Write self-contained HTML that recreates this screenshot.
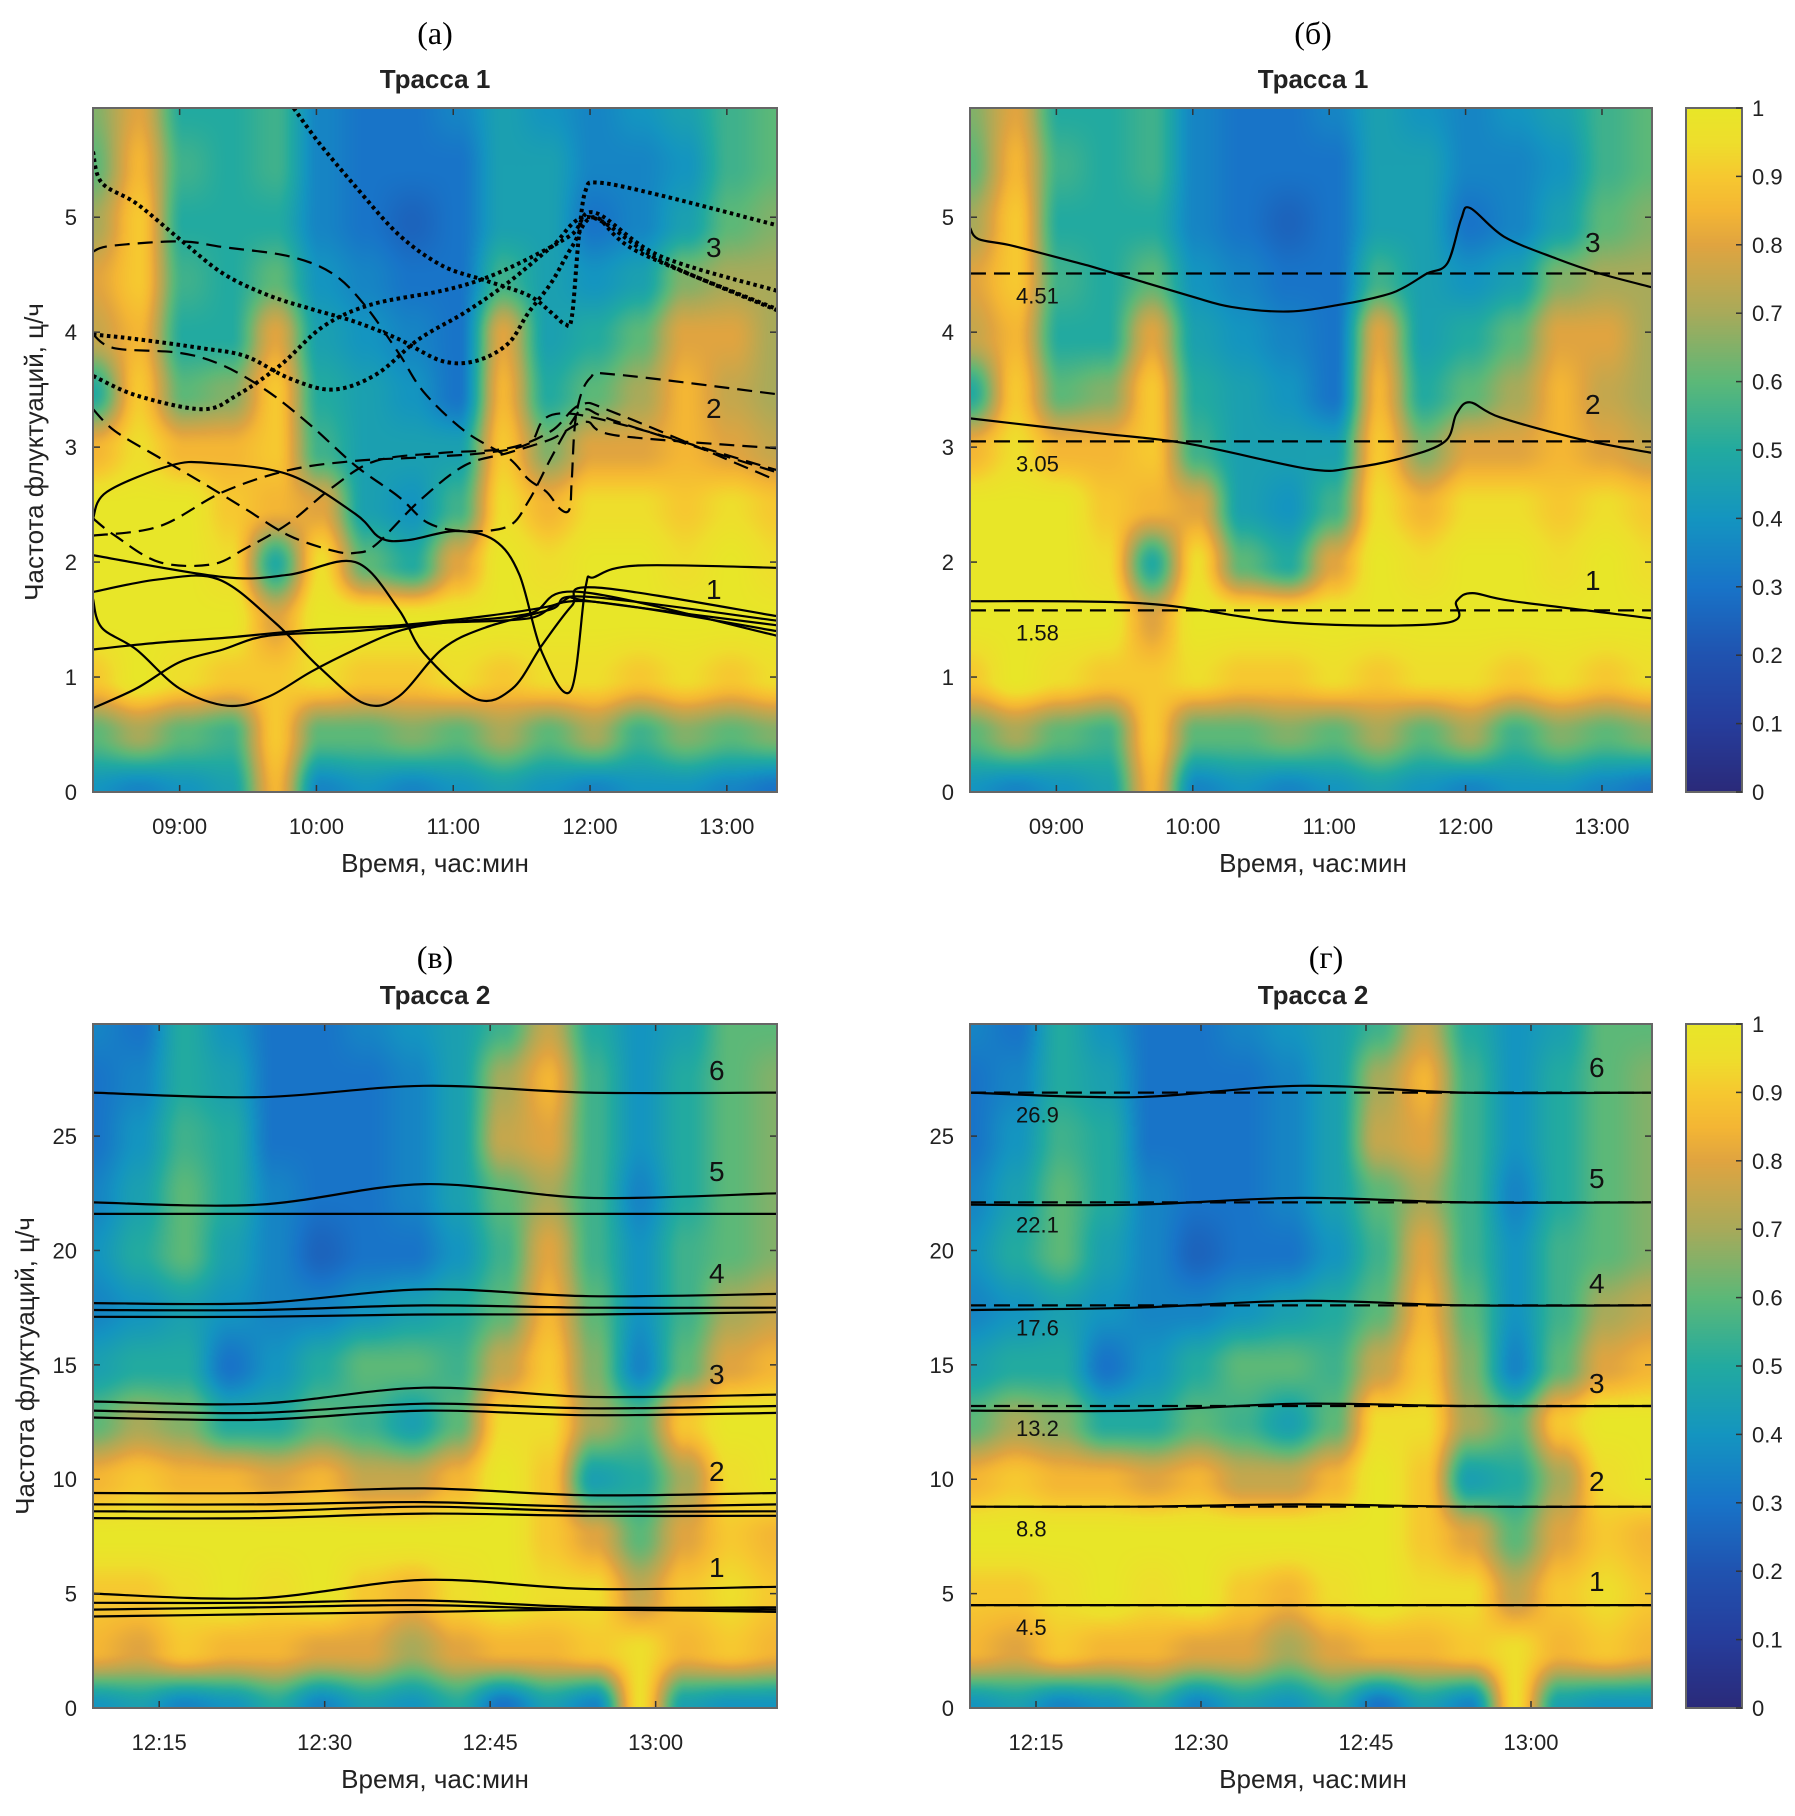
<!DOCTYPE html>
<html><head><meta charset="utf-8">
<style>
html,body{margin:0;padding:0;background:#fff;}
#wrap{position:relative;width:1795px;height:1816px;overflow:hidden;background:#fff;font-family:"Liberation Sans","DejaVu Sans",sans-serif;}
canvas{position:absolute;}
svg{position:absolute;left:0;top:0;}
</style></head>
<body>
<div id="wrap">
<canvas id="hmA" width="684" height="684" style="left:93px;top:108px"></canvas>
<canvas id="hmB" width="682" height="684" style="left:970px;top:108px"></canvas>
<canvas id="hmC" width="684" height="684" style="left:93px;top:1024px"></canvas>
<canvas id="hmD" width="682" height="684" style="left:970px;top:1024px"></canvas>
<canvas id="cb1" width="56" height="684" style="left:1686px;top:108px"></canvas>
<canvas id="cb2" width="56" height="684" style="left:1686px;top:1024px"></canvas>
<svg id="svg" width="1795" height="1816" xmlns="http://www.w3.org/2000/svg"></svg>
</div>
<script>
// ---------- colormap ----------
const cmapV=[0,0.1,0.2,0.3,0.4,0.5,0.6,0.7,0.8,0.85,0.9,0.95,1];
const cmapC=[[42,42,122],[38,61,156],[32,83,176],[24,116,200],[20,149,192],[34,170,160],[92,184,120],[168,170,90],[224,164,64],[244,182,52],[246,200,48],[238,222,44],[232,230,40]];

// ---------- Trace 1 heatmap (rows top 5.95 -> bottom 0) ----------
const t1Top=5.95;
const t1Rows=[
[0.65,0.8,0.5,0.5,0.55,0.35,0.3,0.3,0.35,0.45,0.4,0.35,0.4,0.45,0.55,0.6],
[0.6,0.85,0.55,0.5,0.55,0.35,0.3,0.3,0.3,0.45,0.45,0.35,0.35,0.4,0.55,0.6],
[0.7,0.9,0.5,0.5,0.5,0.35,0.3,0.25,0.3,0.45,0.45,0.3,0.35,0.45,0.6,0.65],
[0.8,0.9,0.55,0.5,0.6,0.4,0.35,0.3,0.3,0.55,0.45,0.4,0.45,0.65,0.7,0.7],
[0.75,0.85,0.5,0.5,0.8,0.45,0.4,0.35,0.3,0.8,0.45,0.5,0.6,0.8,0.8,0.7],
[0.5,0.9,0.6,0.65,0.9,0.5,0.45,0.4,0.3,0.85,0.5,0.6,0.7,0.85,0.75,0.7],
[0.85,0.95,0.85,0.85,0.9,0.55,0.45,0.45,0.45,0.9,0.65,0.8,0.8,0.85,0.8,0.75],
[1,1,1,0.9,0.85,0.8,0.45,0.4,0.55,0.95,0.85,0.95,0.95,0.9,0.95,0.9],
[1,1,1,0.95,0.5,0.95,0.6,0.5,0.8,1,0.95,1,1,0.95,1,0.95],
[1,1,1,1,0.8,1,1,1,1,1,1,1,1,1,1,1],
[0.9,1,0.95,0.9,0.9,0.95,0.9,0.9,0.95,0.9,0.95,0.95,0.9,0.95,0.9,0.95],
[0.6,0.7,0.6,0.55,0.9,0.6,0.6,0.65,0.6,0.7,0.6,0.7,0.55,0.65,0.6,0.65],
[0.4,0.35,0.4,0.45,0.85,0.35,0.4,0.35,0.4,0.45,0.4,0.35,0.4,0.4,0.35,0.3]];
// ---------- Trace 2 heatmap (rows 30 -> 0) ----------
const t2Top=29.9;
const t2Rows=[
[0.35,0.3,0.5,0.4,0.3,0.3,0.35,0.4,0.45,0.55,0.75,0.5,0.4,0.45,0.6,0.6],
[0.3,0.35,0.5,0.45,0.3,0.3,0.3,0.35,0.45,0.7,0.85,0.55,0.4,0.5,0.6,0.65],
[0.3,0.4,0.55,0.5,0.3,0.3,0.3,0.35,0.45,0.75,0.8,0.55,0.4,0.5,0.6,0.65],
[0.35,0.45,0.6,0.5,0.35,0.3,0.3,0.35,0.45,0.6,0.7,0.55,0.35,0.5,0.6,0.65],
[0.4,0.5,0.6,0.45,0.35,0.25,0.3,0.3,0.4,0.55,0.8,0.55,0.4,0.55,0.6,0.65],
[0.35,0.4,0.45,0.4,0.35,0.35,0.4,0.45,0.5,0.6,0.85,0.6,0.4,0.55,0.7,0.75],
[0.45,0.5,0.5,0.3,0.4,0.5,0.6,0.6,0.55,0.75,0.9,0.65,0.35,0.6,0.8,0.85],
[0.6,0.7,0.65,0.5,0.5,0.6,0.55,0.45,0.6,0.95,0.95,0.7,0.6,0.9,1,1],
[0.85,0.9,0.85,0.85,0.8,0.85,0.75,0.75,0.85,1,0.9,0.45,0.5,0.7,0.95,1],
[1,1,1,1,1,1,1,1,1,1,0.9,0.8,0.6,0.8,0.9,0.85],
[0.9,0.9,0.95,1,0.95,1,0.9,0.85,0.95,1,0.95,0.95,0.75,0.9,0.95,0.9],
[0.85,0.8,0.9,0.85,0.85,0.8,0.8,0.7,0.8,0.85,0.85,0.9,0.95,0.85,0.9,0.85],
[0.4,0.45,0.35,0.4,0.5,0.35,0.45,0.4,0.5,0.3,0.45,0.35,0.95,0.45,0.4,0.4]];

// ---------- Panel (a) lines: times in minutes after 08:22 ----------
const aSolidT=[
[0,6,34,52,86,115,126,138,159,176,187,197,209.5,216,220,239,300],
[0,57,86,115,134,145,168,184,197,210,220,300],
[0,29,55,80,99,119,134,153,172,201,216,300],
[0,3.8,19,38,59,77,96,115,134,153,191,214,300],
[0,29,57,96,134,172,201,210,218,300],
[0,19,38,57,77,115,153,191,216,300]];
const aSolidV=[
[2.38,2.61,2.84,2.86,2.76,2.42,2.21,2.19,2.27,2.19,1.89,1.21,0.88,1.78,1.87,1.97,1.95],
[2.06,1.87,1.89,2.00,1.59,1.21,0.81,0.90,1.28,1.62,1.78,1.53],
[1.74,1.85,1.85,1.47,1.09,0.77,0.83,1.24,1.43,1.59,1.70,1.49],
[1.68,1.43,1.24,0.90,0.75,0.83,1.05,1.24,1.40,1.47,1.55,1.74,1.36],
[1.24,1.30,1.34,1.41,1.45,1.53,1.62,1.70,1.66,1.45],
[0.73,0.90,1.13,1.24,1.36,1.40,1.47,1.51,1.66,1.40]];
const aDashT=[
[0,7.7,38,57,86,105,119,134,145,163,182,191,199,205,209,210,212,218,230,300],
[0,9.6,38,57,77,96,115,134,147,163,182,191,201,210,216,230,300],
[0,9.6,29,48,67,86,105,115,124,143,163,182,201,216,230,300],
[0,9.6,29,52,67,86,105,124,153,182,201,214,230,300],
[0,29,57,86,115,143,172,191,210,300]];
const aDashV=[
[4.70,4.75,4.79,4.74,4.66,4.51,4.24,3.82,3.48,3.14,2.91,2.72,2.61,2.46,2.46,2.72,3.29,3.60,3.63,3.46],
[3.98,3.86,3.82,3.71,3.48,3.18,2.84,2.57,2.34,2.27,2.31,2.53,2.91,3.22,3.33,3.22,2.78],
[3.33,3.14,2.91,2.69,2.46,2.23,2.10,2.08,2.15,2.53,2.84,2.95,3.07,3.22,3.10,2.99],
[2.38,2.23,2.00,1.98,2.12,2.34,2.65,2.88,2.95,2.99,3.14,3.37,3.29,2.71],
[2.23,2.31,2.61,2.80,2.88,2.91,2.95,3.03,3.29,2.80]];
const aDotT=[
[88,99,115,134,153,172,191,201,207,210,213,216,222,249,300],
[0,3.8,19,38,57,77,96,115,134,153,168,182,191,201,210,220,239,300],
[0,19,48,67,86,105,124,143,163,182,201,218,249,300],
[0,19,48,63,82,101,122,153,172,191,210,220,249,300]];
const aDotV=[
[5.95,5.65,5.27,4.85,4.58,4.45,4.32,4.17,4.07,4.13,4.81,5.23,5.30,5.19,4.93],
[5.57,5.30,5.12,4.81,4.51,4.32,4.20,4.09,3.94,3.75,3.75,3.90,4.17,4.43,4.74,5.0,4.70,4.20],
[3.98,3.94,3.86,3.79,3.60,3.50,3.63,3.94,4.17,4.43,4.74,5.0,4.62,4.19],
[3.62,3.45,3.33,3.45,3.71,4.05,4.24,4.36,4.47,4.64,4.85,5.04,4.66,4.36]];

// ---------- Panel (b) ----------
const bT=[
[0,3.8,19,48,57,96,115,140,163,182,191,201,210,216,220,235,258,277,300],
[0,57,96,149,168,191,209,214,220,233,268,300],
[0,77,143,209,214,221,239,300]];
const bV=[
[4.91,4.81,4.75,4.60,4.55,4.32,4.22,4.18,4.24,4.32,4.39,4.51,4.60,4.98,5.08,4.83,4.64,4.51,4.39],
[3.25,3.12,3.03,2.81,2.82,2.91,3.05,3.29,3.39,3.26,3.07,2.95],
[1.66,1.64,1.47,1.47,1.66,1.73,1.66,1.51]];
const bMeans=[4.51,3.05,1.58];
const bMeanLabels=["4.51","3.05","1.58"];

// ---------- Panels (c),(d): minutes after 12:09 ----------
const cdT=[0,15,30,45,62];
const cV=[
[26.9,26.7,27.2,26.9,26.9],[22.1,22.0,22.9,22.3,22.5],[21.6,21.6,21.6,21.6,21.6],
[17.7,17.7,18.3,18.0,18.1],[17.4,17.4,17.6,17.5,17.5],[17.1,17.1,17.2,17.2,17.3],
[13.4,13.3,14.0,13.6,13.7],[13.0,12.9,13.3,13.1,13.2],[12.7,12.6,13.0,12.8,12.9],
[9.4,9.4,9.6,9.3,9.4],[8.9,8.9,9.0,8.8,8.9],[8.6,8.6,8.8,8.6,8.6],[8.3,8.3,8.5,8.4,8.4],
[5.0,4.8,5.6,5.2,5.3],[4.6,4.6,4.7,4.4,4.4],[4.3,4.4,4.5,4.3,4.3],[4.0,4.1,4.2,4.3,4.2]];
const dV=[
[26.9,26.7,27.2,26.9,26.9],[22.0,22.0,22.3,22.1,22.1],[17.4,17.5,17.8,17.6,17.6],
[13.0,13.0,13.3,13.2,13.2],[8.8,8.8,8.9,8.8,8.8],[4.5,4.5,4.5,4.5,4.5]];
const dMeans=[26.9,22.1,17.6,13.2,8.8,4.5];
const dMeanLabels=["26.9","22.1","17.6","13.2","8.8","4.5"];

// ---------- ticks ----------
const t1TickMin=[38,98,158,218,278];
const t1TickLbl=["09:00","10:00","11:00","12:00","13:00"];
const t2TickMin=[6,21,36,51];
const t2TickLbl=["12:15","12:30","12:45","13:00"];
const y1Ticks=[0,1,2,3,4,5];
const y2Ticks=[0,5,10,15,20,25];
const cbTicks=[0,0.1,0.2,0.3,0.4,0.5,0.6,0.7,0.8,0.9,1];
const cbTickLbl=["0","0.1","0.2","0.3","0.4","0.5","0.6","0.7","0.8","0.9","1"];

// ================= drawing =================
function cmap(v){
  v=Math.max(0,Math.min(1,v));
  for(let i=1;i<cmapV.length;i++){
    if(v<=cmapV[i]){const f=(v-cmapV[i-1])/(cmapV[i]-cmapV[i-1]);const a=cmapC[i-1],b=cmapC[i];
      return [a[0]+(b[0]-a[0])*f,a[1]+(b[1]-a[1])*f,a[2]+(b[2]-a[2])*f];}
  }
  return cmapC[cmapC.length-1];
}
function sm(f){return f*f*(3-2*f);}
function drawHeat(id,rows){
  const c=document.getElementById(id),ctx=c.getContext('2d'),W=c.width,H=c.height;
  const img=ctx.createImageData(W,H);const nr=rows.length,nc=rows[0].length;
  for(let y=0;y<H;y++){
    const fy=y/(H-1)*(nr-1);const r0=Math.min(nr-2,Math.floor(fy));const ty=sm(fy-r0);
    for(let x=0;x<W;x++){
      const fx=x/(W-1)*(nc-1);const c0=Math.min(nc-2,Math.floor(fx));const tx=sm(fx-c0);
      const v=(rows[r0][c0]*(1-tx)+rows[r0][c0+1]*tx)*(1-ty)+(rows[r0+1][c0]*(1-tx)+rows[r0+1][c0+1]*tx)*ty;
      const col=cmap(v);const k=(y*W+x)*4;
      img.data[k]=col[0];img.data[k+1]=col[1];img.data[k+2]=col[2];img.data[k+3]=255;
    }
  }
  ctx.putImageData(img,0,0);
}
function drawCb(id){
  const c=document.getElementById(id),ctx=c.getContext('2d');
  for(let y=0;y<c.height;y++){const col=cmap(1-y/(c.height-1));
    ctx.fillStyle='rgb('+col.map(Math.round).join(',')+')';ctx.fillRect(0,y,c.width,1);}
}
drawHeat('hmA',t1Rows);drawHeat('hmB',t1Rows);drawHeat('hmC',t2Rows);drawHeat('hmD',t2Rows);
drawCb('cb1');drawCb('cb2');

const NS='http://www.w3.org/2000/svg';const svg=document.getElementById('svg');
function el(tag,attrs,parent){const e=document.createElementNS(NS,tag);for(const k in attrs)e.setAttribute(k,attrs[k]);(parent||svg).appendChild(e);return e;}
function txt(s,x,y,attrs,parent){const e=el('text',Object.assign({x:x,y:y},attrs),parent);e.textContent=s;return e;}

function axes(x0,x1,y0,y1,tMax,vMax,name){
  const g=el('g',{});
  
  
  const X=t=>x0+t/tMax*(x1-x0);const Y=v=>y1-v/vMax*(y1-y0);
  const clipId='clip-'+name;const cp=el('clipPath',{id:clipId},g);el('rect',{x:x0,y:y0,width:x1-x0,height:y1-y0},cp);
  const lines=el('g',{'clip-path':'url(#'+clipId+')'},g);
  return {g,X,Y,lines,x0,x1,y0,y1};
}
function curvePath(ax,ts,vs){
  const p=ts.map((t,i)=>[ax.X(t),ax.Y(vs[i])]);
  let d='M'+p[0][0].toFixed(1)+','+p[0][1].toFixed(1);
  for(let i=0;i<p.length-1;i++){
    const p0=p[Math.max(0,i-1)],p1=p[i],p2=p[i+1],p3=p[Math.min(p.length-1,i+2)];
    const c1=[p1[0]+(p2[0]-p0[0])/6,p1[1]+(p2[1]-p0[1])/6];
    const c2=[p2[0]-(p3[0]-p1[0])/6,p2[1]-(p3[1]-p1[1])/6];
    d+='C'+c1[0].toFixed(1)+','+c1[1].toFixed(1)+' '+c2[0].toFixed(1)+','+c2[1].toFixed(1)+' '+p2[0].toFixed(1)+','+p2[1].toFixed(1);
  }
  return d;
}
function frame(ax,xt,xl,yt,yl){
  const g=ax.g;
  xt.forEach((t,i)=>{const x=ax.X(t);
    el('line',{x1:x,x2:x,y1:ax.y1,y2:ax.y1-7,stroke:'#333','stroke-width':1.5},g);
    el('line',{x1:x,x2:x,y1:ax.y0,y2:ax.y0+7,stroke:'#333','stroke-width':1.5},g);
    const l=txt(xl[i],x,ax.y1+42,{'font-size':22,'text-anchor':'middle',fill:'#222'},g);
    
    
  });
  yt.forEach((v,i)=>{const y=ax.Y(v);
    el('line',{x1:ax.x0,x2:ax.x0+7,y1:y,y2:y,stroke:'#333','stroke-width':1.5},g);
    el('line',{x1:ax.x1,x2:ax.x1-7,y1:y,y2:y,stroke:'#333','stroke-width':1.5},g);
    const l=txt(yl[i],ax.x0-16,y+8,{'font-size':22,'text-anchor':'end',fill:'#222'},g);
    
    
  });
  const r=el('rect',{x:ax.x0,y:ax.y0,width:ax.x1-ax.x0,height:ax.y1-ax.y0,fill:'none',stroke:'#666','stroke-width':2},g);
  
  
}
function line(ax,ts,vs,style,name){
  const a={d:curvePath(ax,ts,vs),fill:'none',stroke:'#000','stroke-width':2.2};
  if(style==='dash'){a['stroke-dasharray']='15 8';}
  if(style==='dot'){a['stroke-dasharray']='3.5 3.5';a['stroke-width']=4;}
  if(style==='mean'){a['stroke-dasharray']='16 8';a['stroke-width']=2.2;}
  const p=el('path',a,ax.lines);
  
  
}
function label(ax,s,x,y,size,name){
  const l=txt(s,x,y,{'font-size':size,fill:'#111'},ax.g);
  
  
}
function titles(cx,letter,title){
  const a=txt(letter,cx,44,{'font-size':32,'text-anchor':'middle','font-family':'Liberation Serif, serif',fill:'#000'});
  
  
  const t=txt(title,cx,88,{'font-size':26,'font-weight':'bold','text-anchor':'middle',fill:'#222'});
  
  
  return [a,t];
}

// Panel A
const A=axes(93,777,108,792,300,5.95,'panel-a');
aSolidT.forEach((t,i)=>line(A,t,aSolidV[i],'solid','solid-curve-harmonic-1'));
aDashT.forEach((t,i)=>line(A,t,aDashV[i],'dash','dashed-curve-harmonic-2'));
aDotT.forEach((t,i)=>line(A,t,aDotV[i],'dot','dotted-curve-harmonic-3'));
frame(A,t1TickMin,t1TickLbl,y1Ticks,y1Ticks.map(String));
label(A,'3',706,257,28,'group-label-3');label(A,'2',706,418,28,'group-label-2');label(A,'1',706,599,28,'group-label-1');

// Panel B
const B=axes(970,1652,108,792,300,5.95,'panel-b');
bMeans.forEach((m,i)=>line(B,[0,300],[m,m],'mean','mean-line'));
bT.forEach((t,i)=>line(B,t,bV[i],'solid','solid-curve'));
frame(B,t1TickMin,t1TickLbl,y1Ticks,y1Ticks.map(String));
bMeans.forEach((m,i)=>label(B,bMeanLabels[i],1016,B.Y(m)+30,22,'mean-value-label'));
label(B,'3',1585,252,28,'group-label-3');label(B,'2',1585,414,28,'group-label-2');label(B,'1',1585,590,28,'group-label-1');

// Panel C
const C=axes(93,777,1024,1708,62,29.9,'panel-c');
cV.forEach(v=>line(C,cdT,v,'solid','solid-curve'));
frame(C,t2TickMin,t2TickLbl,y2Ticks,y2Ticks.map(String));
['6','5','4','3','2','1'].forEach((s,i)=>label(C,s,709,[1080,1181,1283,1384,1481,1577][i],28,'group-label-'+s));

// Panel D
const D=axes(970,1652,1024,1708,62,29.9,'panel-d');
dMeans.forEach(m=>line(D,[0,62],[m,m],'mean','mean-line'));
dV.forEach(v=>line(D,cdT,v,'solid','solid-curve'));
frame(D,t2TickMin,t2TickLbl,y2Ticks,y2Ticks.map(String));
dMeans.forEach((m,i)=>label(D,dMeanLabels[i],1016,D.Y(m)+30,22,'mean-value-label'));
['6','5','4','3','2','1'].forEach((s,i)=>label(D,s,1589,[1077,1188,1293,1393,1491,1591][i],28,'group-label-'+s));

// axis titles
[[435,872],[1313,872],[435,1788],[1313,1788]].forEach(p=>{
  const t=txt('Время, час:мин',p[0],p[1],{'font-size':26,'text-anchor':'middle',fill:'#222'});
  
  
});
[[43,452],[34,1366]].forEach(p=>{
  const t=txt('Частота флуктуаций, ц/ч',0,0,{'font-size':26,'text-anchor':'middle',fill:'#222',transform:'translate('+p[0]+','+p[1]+') rotate(-90)'});
  
  
});
titles(435,'(а)','Трасса 1');titles(1313,'(б)','Трасса 1');
const tc=titles(435,'(в)','Трасса 2');tc[0].setAttribute('y',968);tc[1].setAttribute('y',1004);
const td=titles(1326,'(г)','Трасса 2');td[0].setAttribute('y',968);td[1].setAttribute('y',1004);td[1].setAttribute('x',1313);

// colorbars
[[108,792],[1024,1708]].forEach(r=>{
  const g=el('g',{});
  
  
  el('rect',{x:1686,y:r[0],width:56,height:r[1]-r[0],fill:'none',stroke:'#666','stroke-width':2},g);
  cbTicks.forEach((v,i)=>{const y=r[1]-v*(r[1]-r[0]);
    el('line',{x1:1736,x2:1742,y1:y,y2:y,stroke:'#333','stroke-width':1.5},g);
    const l=txt(cbTickLbl[i],1752,y+8,{'font-size':22,fill:'#222'},g);
    
    
  });
});
</script>
</body></html>
